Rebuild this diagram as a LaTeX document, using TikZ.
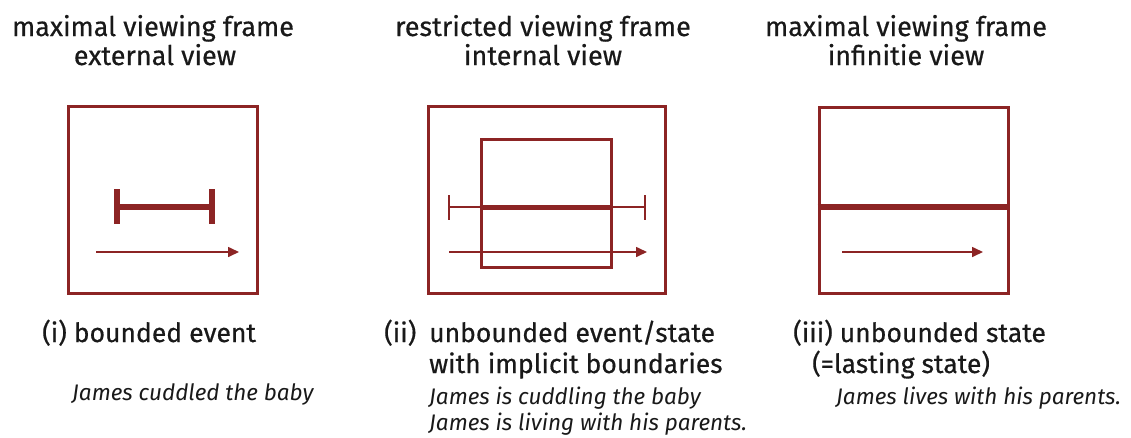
\documentclass[tikz,border=0pt]{standalone}
\usepackage{fontspec}
\setmainfont{Fira Sans}[UprightFeatures={FakeBold=0.5}]
\usetikzlibrary{arrows.meta}
\definecolor{framered}{RGB}{140,36,36}
\definecolor{ink}{RGB}{25,25,25}
\tikzset{
  ttl/.style={anchor=base, inner sep=0pt, text=ink, font=\fontsize{27}{31}\selectfont},
  lbl/.style={anchor=base west, inner sep=0pt, text=ink, font=\fontsize{26.5}{30}\selectfont},
  ex/.style={anchor=base west, inner sep=0pt, text=ink, font=\fontsize{22.5}{26}\selectfont\itshape},
  frm/.style={draw=framered, line width=3pt, inner sep=0pt},
  thick bar/.style={draw=framered, line width=6pt},
  thin bar/.style={draw=framered, line width=1.6pt},
  timearrow/.style={draw=framered, line width=1.6pt, -{Triangle[length=11pt,width=10pt]}}
}
\begin{document}
\begin{tikzpicture}[x=1pt,y=-1pt]
\useasboundingbox (0,0) rectangle (1131,437);
% titles
\node[ttl] (t1a) at (153,36) {maximal viewing frame};
\node[ttl] (t1b) at (155,65) {external view};
\node[ttl] (t2a) at (543,36) {restricted viewing frame};
\node[ttl] (t2b) at (543,65) {internal view};
\node[ttl] (t3a) at (906,36) {maximal viewing frame};
\node[ttl] (t3b) at (906,65) {infinitie view};
% box 1
\node[frm, minimum width=189pt, minimum height=187pt] (b1) at (162.5,199.5) {};
\draw[thick bar] (117,207) -- (212,207);
\draw[framered, line width=6pt] (117,189) -- (117,224);
\draw[framered, line width=6pt] (212,189) -- (212,224);
\coordinate (a1s) at (96,252);
\coordinate (a1e) at (239,252);
\draw[timearrow] (a1s) -- (a1e);
% box 2
\node[frm, minimum width=237pt, minimum height=187pt] (b2) at (546.5,199.5) {};
\node[frm, minimum width=130pt, minimum height=128pt] (b2i) at (546,203) {};
\coordinate (l2s) at (449,207);
\coordinate (l2e) at (645,207);
\draw[thin bar] (l2s) -- (l2e);
\draw[thin bar] (449,195) -- (449,220);
\draw[thin bar] (645,195) -- (645,220);
\draw[framered, line width=5pt] (b2i.west |- l2s) -- (b2i.east |- l2s);
\coordinate (a2s) at (449,252);
\coordinate (a2e) at (647,252);
\draw[timearrow] (a2s) -- (a2e);
% box 3
\node[frm, minimum width=189pt, minimum height=186pt] (b3) at (913.5,200) {};
\draw[thick bar] (b3.west |- 0,207) -- (b3.east |- 0,207);
\coordinate (a3s) at (842,252);
\coordinate (a3e) at (983,252);
\draw[timearrow] (a3s) -- (a3e);
% labels
\node[lbl] (l1) at (42,342) {(i) bounded event};
\node[ex] (e1) at (72,400) {James cuddled the baby};
\node[lbl] (l2n) at (384,342) {(ii)};
\node[lbl] (l2a) at (429,342) {unbounded event/state};
\node[lbl] (l2b) at (429,373) {with implicit boundaries};
\node[ex] (e2a) at (429,404) {James is cuddling the baby};
\node[ex] (e2b) at (429,430) {James is living with his parents.};
\node[lbl] (l3a) at (793,342) {(iii) unbounded state};
\node[lbl] (l3b) at (812,373) {(=lasting state)};
\node[ex] (e3) at (836,404) {James lives with his parents.};
\end{tikzpicture}
\end{document}
